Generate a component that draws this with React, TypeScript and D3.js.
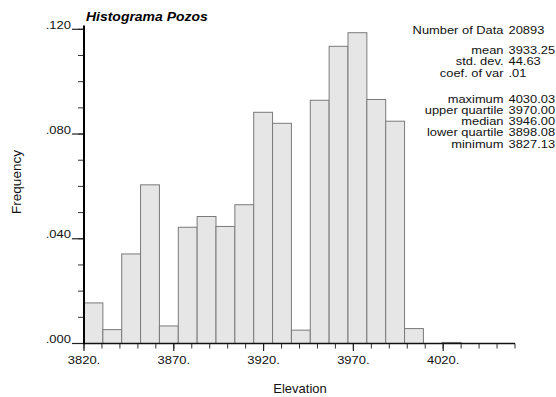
import React from "react";
import * as d3 from "d3";

// Histogram of well elevations (20 classes from 3820 to the maximum)
const binStart = 3820;
const binWidth = 10.5;
const frequencies = [
  0.0155, 0.0053, 0.0342, 0.0606, 0.0067, 0.0444, 0.0485, 0.0447, 0.053, 0.0883,
  0.0841, 0.0051, 0.0929, 0.1135, 0.1187, 0.0932, 0.0849, 0.0057, 0.0, 0.0004,
];

const xMajorTicks = [3820, 3870, 3920, 3970, 4020];
const xMinorTicks = d3.range(3820, 4061, 10);
const yMajorTicks = [0, 0.04, 0.08, 0.12];
const yMinorTicks = d3.range(0, 0.1201, 0.01);

const statLabels = [
  "Number of Data",
  "mean",
  "std. dev.",
  "coef. of var",
  "maximum",
  "upper quartile",
  "median",
  "lower quartile",
  "minimum",
];
const statValues = ["20893", "3933.25", "44.63", ".01", "4030.03", "3970.00", "3946.00", "3898.08", "3827.13"];
const statBaselines = [33.5, 54, 65.3, 76.6, 102.5, 113.8, 125.1, 136.4, 147.7];

const W = 556;
const H = 397;
const FONT = "'Liberation Sans', Arial, Helvetica, sans-serif";

const fmtY = (v: number) => d3.format(".3f")(v).replace(/^0/, "");
const fmtX = (v: number) => `${v}.`;

export default function App() {
  const x = d3.scaleLinear().domain([3820, 4060]).range([84, 515]);
  const y = d3.scaleLinear().domain([0, 0.12]).range([343.5, 29.3]);
  const y0 = y(0);

  const bars = frequencies.map((f, i) => ({
    x0: binStart + i * binWidth,
    x1: binStart + (i + 1) * binWidth,
    f,
  }));

  return (
    <svg
      width={W}
      height={H}
      style={{ position: "absolute", left: 0, top: 0, background: "#fff" }}
      fontFamily={FONT}
    >
      <rect x={0} y={0} width={W} height={H} fill="#fff" />

      {/* bars */}
      {bars
        .filter((b) => b.f > 0)
        .map((b, i) => (
          <rect
            key={i}
            x={x(b.x0)}
            y={y(b.f)}
            width={x(b.x1) - x(b.x0)}
            height={y0 - y(b.f)}
            fill="#e6e6e6"
            stroke="#7a7a7a"
            strokeWidth={1}
          />
        ))}

      {/* x axis */}
      {xMinorTicks.map((t) => (
        <line key={"xm" + t} x1={x(t)} x2={x(t)} y1={y0} y2={y0 + 5} stroke="#333" strokeWidth={1} />
      ))}
      {xMajorTicks.map((t) => (
        <g key={"xM" + t}>
          <line x1={x(t)} x2={x(t)} y1={y0} y2={y0 + 7.5} stroke="#222" strokeWidth={1.2} />
          <text
            transform={`translate(${x(t)},363.5) scale(1.12,1)`}
            textAnchor="middle"
            fontSize={11.6}
            fill="#111"
          >
            {fmtX(t)}
          </text>
        </g>
      ))}
      <line x1={x(3820)} x2={x(4060)} y1={y0} y2={y0} stroke="#111" strokeWidth={1.6} />

      {/* y axis */}
      {yMinorTicks.map((t, i) => (
        <line key={"ym" + i} x1={78} x2={84} y1={y(t)} y2={y(t)} stroke="#333" strokeWidth={1} />
      ))}
      {yMajorTicks.map((t) => (
        <g key={"yM" + t}>
          <line x1={72} x2={84} y1={y(t)} y2={y(t)} stroke="#222" strokeWidth={1.2} />
          <text
            transform={`translate(71,${y(t) - 0.3}) scale(1.12,1)`}
            textAnchor="end"
            fontSize={11.6}
            fill="#111"
          >
            {fmtY(t)}
          </text>
        </g>
      ))}
      <line x1={84} x2={84} y1={y0 + 0.8} y2={25.5} stroke="#000" strokeWidth={2} />

      {/* titles */}
      <text
        transform="translate(86,20.5) scale(1.035,1)"
        fontSize={13.5}
        fontWeight="bold"
        fontStyle="italic"
        fill="#000"
      >
        Histograma Pozos
      </text>
      <text x={300} y={392.5} textAnchor="middle" fontSize={13} fill="#111">
        Elevation
      </text>
      <text
        transform="translate(20.5,182) rotate(-90)"
        textAnchor="middle"
        fontSize={13.5}
        fill="#111"
      >
        Frequency
      </text>

      {/* summary statistics */}
      {statLabels.map((s, i) => (
        <g key={s}>
          <text
            transform={`translate(503.5,${statBaselines[i]}) scale(1.14,1)`}
            textAnchor="end"
            fontSize={11.3}
            fill="#111"
          >
            {s}
          </text>
          <text
            transform={`translate(508.5,${statBaselines[i]}) scale(1.14,1)`}
            textAnchor="start"
            fontSize={11.3}
            fill="#111"
          >
            {statValues[i]}
          </text>
        </g>
      ))}
    </svg>
  );
}
